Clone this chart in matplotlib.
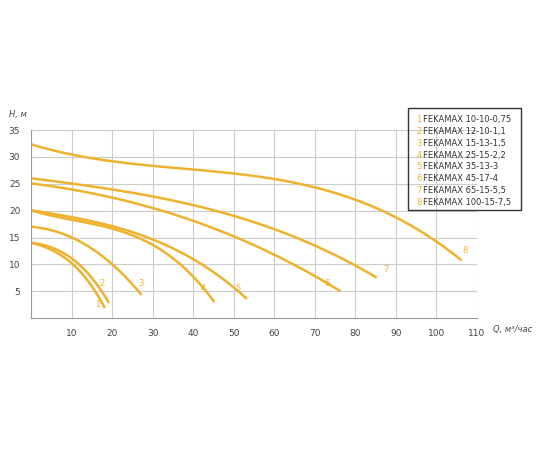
import matplotlib.pyplot as plt
import numpy as np

names = ["FEKAMAX 10-10-0,75", "FEKAMAX 12-10-1,1", "FEKAMAX 15-13-1,5", "FEKAMAX 25-15-2,2",
         "FEKAMAX 35-13-3", "FEKAMAX 45-17-4", "FEKAMAX 65-15-5,5", "FEKAMAX 100-15-7,5"]
q = [[0, 5, 10, 15, 18],
     [0, 5, 10, 15, 19],
     [0, 10, 20, 27],
     [0, 10, 20, 30, 40, 45],
     [0, 10, 20, 30, 40, 50, 53],
     [0, 10, 20, 30, 40, 50, 60, 70, 76],
     [0, 20, 40, 50, 60, 70, 80, 85],
     [0, 20, 40, 60, 80, 90, 100, 106]]
h = [[14, 12.8, 10, 6, 2],
     [14, 13.2, 11, 7.5, 3],
     [17, 15, 10, 4.5],
     [20, 18.5, 16.5, 13.5, 8, 3],
     [20, 19, 17, 14.5, 11, 6, 3.5],
     [25, 24, 22.5, 20.5, 18, 15, 12, 8, 5],
     [26, 24, 21, 19, 16.5, 13.5, 10, 7.5],
     [32, 30, 27.5, 25, 22, 19.5, 15, 10]]
lab_pos = [(16.5, 2.5), (17.5, 6.5), (27, 6.5), (42.5, 5.5), (51, 5.5), (73, 6.5), (87.5, 9), (107, 12.5)]

col = "#efb22e"
fig = plt.figure(figsize=(5.5, 4.5), dpi=100)
ax = fig.add_axes([0.057, 0.293, 0.81, 0.418])
for i in range(8):
    xs = np.linspace(q[i][0], q[i][-1], 100)
    ys = np.interp(xs, q[i], h[i])
    # light smoothing with a polynomial fit through the read points
    p = np.polyfit(q[i], h[i], min(3, len(q[i]) - 1))
    ax.plot(xs, np.polyval(p, xs), color=col, lw=1.8)
    ax.text(lab_pos[i][0], lab_pos[i][1], str(i + 1), color=col, fontsize=6, ha="center", va="center")

ax.set_xlim(0, 110)
ax.set_ylim(0, 35)
ax.set_xticks(range(10, 111, 10))
ax.set_yticks(range(5, 36, 5))
ax.grid(color="#cccccc", lw=0.8)
ax.tick_params(length=0, labelsize=6.5, colors="#444444", pad=8)
for s in ["top", "right"]:
    ax.spines[s].set_visible(False)
for s in ["left", "bottom"]:
    ax.spines[s].set_color("#999999")
ax.text(-1, 37.5, "H, м", fontsize=6, style="italic", color="#444444", ha="right")
ax.text(114, -2.2, "Q, м³/час", fontsize=6, style="italic", color="#444444", va="center")

lx, ly = 0.745, 0.755
fig.patches.append(plt.Rectangle((0.742, 0.533), 0.205, 0.227, transform=fig.transFigure,
                                 fill=False, edgecolor="#333333", lw=1))
for i, n in enumerate(names):
    y = ly - 0.02 - i * 0.0265
    fig.text(lx + 0.012, y, str(i + 1), color=col, fontsize=6, va="center")
    fig.text(lx + 0.024, y, n, color="#333333", fontsize=6, va="center")

fig.savefig("out.png")
